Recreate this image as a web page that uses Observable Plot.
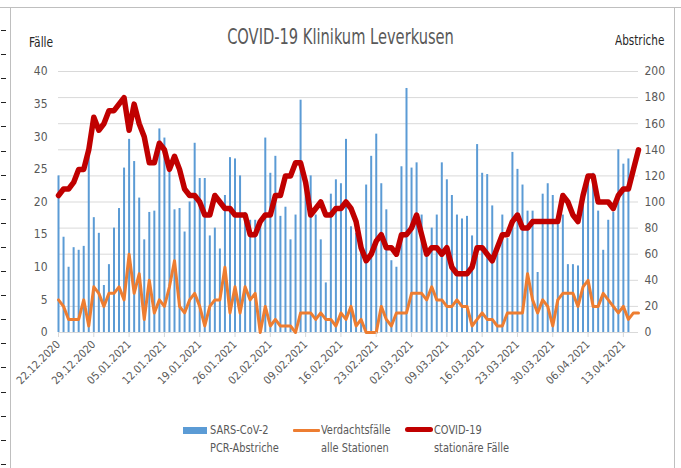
<!DOCTYPE html>
<html>
<head>
<meta charset="utf-8">
<script src="https://cdn.jsdelivr.net/npm/d3@7"></script>
<script src="https://cdn.jsdelivr.net/npm/@observablehq/plot@0.6"></script>
<style>
  body { margin: 0; background: #fff; }
  #wrap { position: relative; width: 681px; height: 468px; overflow: hidden; background: #fff;
          font-family: "DejaVu Sans Condensed", "Liberation Sans Narrow", sans-serif; }
  #chart { position: absolute; left: 0; top: 0; }
  .t { position: absolute; white-space: nowrap; color: #595959; transform-origin: left center; }
  .frame { position: absolute; background: #bfbfbf; }
  .dash { position: absolute; left: 1px; width: 5px; height: 1px; background: #222; }
</style>
</head>
<body>
<div id="wrap">
  <div class="frame" style="left:0;top:7px;width:681px;height:1px;"></div>
  <div class="frame" style="left:10px;top:8px;width:1px;height:460px;"></div>
  <div class="frame" style="left:674px;top:8px;width:1px;height:460px;"></div>
  <div id="chart"></div>
  <div class="t" id="title" style="left:0;width:681px;top:24px;text-align:center;font-size:22px;transform:scaleX(0.74);transform-origin:center center;">COVID-19 Klinikum Leverkusen</div>
  <div class="t" style="left:29px;top:34px;font-size:14px;color:#262626;transform:scaleX(0.85);">Fälle</div>
  <div class="t" style="left:615px;top:32px;font-size:14px;color:#262626;transform:scaleX(0.83);">Abstriche</div>
  <div id="legend"></div>
</div>
<script>
// ---- data ----
const firstDay = "2020-12-22";
const lastDay = "2021-04-16";

// SARS-CoV-2 PCR-Abstriche (right axis), one per day from 22.12.2020
const pcrSwabs = [120,73,50,65,63,66,135,88,76,36,
  52,80,95,126,148,131,103,71,92,93,
  156,149,123,94,95,77,100,145,118,118,
  74,80,64,105,134,133,120,92,86,86,
  84,149,122,135,89,96,71,90,178,110,
  120,90,71,38,106,117,114,148,81,76,
  62,113,135,152,114,94,55,50,127,187,
  126,130,90,58,80,90,130,117,105,90,
  87,89,74,144,122,121,97,62,90,72,
  138,125,113,93,93,46,106,114,105,86,
  90,52,52,51,104,119,122,93,63,86,
  92,140,129,133];

// Verdachtsfälle alle Stationen (left axis)
const suspectedCases = [5,4,2,2,2,5,1,7,6,4,
  6,6,7,5,12,6,9,2,8,3,
  5,4,7,11,4,3,5,6,4,1,
  4,5,5,10,3,7,3,7,5,6,
  0,4,1,2,1,1,1,0,3,3,
  3,2,3,2,2,1,3,2,4,1,
  2,0,0,0,4,2,1,3,3,3,
  6,6,6,5,7,5,5,4,4,5,
  4,4,1,2,3,2,2,1,1,3,
  3,3,3,9,5,3,5,4,1,5,
  6,6,6,4,7,8,4,4,6,5,
  4,3,4,2,3,3];

// COVID-19 stationäre Fälle (left axis)
const inpatientCases = [21,22,22,23,25,25,28,33,31,32,
  34,34,35,36,31,35,32,30,26,26,
  29,28,25,27,25,22,21,21,20,18,
  18,21,20,19,19,18,18,18,15,15,
  17,18,18,21,21,24,24,26,26,23,
  18,19,20,18,18,19,19,20,19,17,
  13,11,12,14,15,13,13,12,15,15,
  16,18,15,12,13,13,12,13,10,9,
  9,9,10,13,13,12,11,13,15,15,
  17,18,16,16,17,17,17,17,17,17,
  21,20,18,17,21,24,24,20,20,20,
  19,21,22,22,25,28];

const tickLabels = ["22.12.2020","29.12.2020","05.01.2021","12.01.2021","19.01.2021","26.01.2021",
  "02.02.2021","09.02.2021","16.02.2021","23.02.2021","02.03.2021","09.03.2021","16.03.2021",
  "23.03.2021","30.03.2021","06.04.2021","13.04.2021"];

const leftTicks = [0,5,10,15,20,25,30,35,40];
const rightTicks = [0,20,40,60,80,100,120,140,160,180,200];

const seriesNames = ["SARS-CoV-2\nPCR-Abstriche", "Verdachtsfälle\nalle Stationen", "COVID-19\nstationäre Fälle"];
const seriesColors = ["#5b9bd5", "#ed7d31", "#c00000"];

// ---- build tables ----
const parse = d3.utcParse("%d.%m.%Y");
const days = d3.utcDay.range(new Date(firstDay), d3.utcDay.offset(new Date(lastDay), 1));
const swabRows = pcrSwabs.map((v, i) => ({date: days[i], value: v}));
const suspRows = suspectedCases.map((v, i) => ({date: days[i], value: v}));
const inpatRows = inpatientCases.map((v, i) => ({date: days[i], value: v}));
const tickDates = tickLabels.map(parse);
const ratio = 200 / 40; // right axis / left axis
const fmt = d3.utcFormat("%d.%m.%Y");
const font = '"DejaVu Sans Condensed", "Liberation Sans Narrow", sans-serif';

const chart = Plot.plot({
  width: 681,
  height: 400,
  marginLeft: 58,
  marginRight: 43,
  marginTop: 71,
  marginBottom: 68,
  style: {fontFamily: font, fontSize: "12px", color: "#595959", background: "transparent", overflow: "visible"},
  x: {type: "utc", domain: [days[0], days[days.length - 1]]},
  y: {domain: [0, 200]},
  marks: [
    Plot.gridY(rightTicks, {stroke: "#d9d9d9", strokeOpacity: 1}),
    Plot.ruleX(swabRows, {x: "date", y: "value", stroke: seriesColors[0], strokeWidth: 2}),
    Plot.ruleY([0], {stroke: "#d9d9d9"}),
    Plot.line(suspRows, {x: "date", y: d => d.value * ratio, stroke: seriesColors[1], strokeWidth: 3, strokeLinejoin: "round"}),
    Plot.line(inpatRows, {x: "date", y: d => d.value * ratio, stroke: seriesColors[2], strokeWidth: 5.5, strokeLinejoin: "round", strokeLinecap: "round"}),
    Plot.axisY(leftTicks.map(d => d * ratio), {anchor: "left", tickSize: 0, tickPadding: 11, tickFormat: d => d / ratio, label: null, fill: "#595959", fontSize: 12}),
    Plot.axisY(rightTicks, {anchor: "right", tickSize: 0, tickPadding: 6, label: null, fill: "#595959", fontSize: 12}),
    Plot.axisX(tickDates, {anchor: "bottom", tickSize: 5, tickPadding: 5, tickRotate: -45, tickFormat: fmt, label: null, stroke: "#d9d9d9", fill: "#595959", fontSize: 11})
  ]
});
document.getElementById("chart").appendChild(chart);

// ---- legend ----
const legend = document.getElementById("legend");
const swatches = [
  {left: 183, top: 427, w: 24, h: 7, r: 0, textLeft: 210},
  {left: 293, top: 429, w: 27, h: 3, r: 1, textLeft: 321},
  {left: 405, top: 427, w: 28, h: 5, r: 3, textLeft: 434}
];
seriesNames.forEach((name, i) => {
  const s = swatches[i];
  const sw = document.createElement("div");
  sw.style.cssText = `position:absolute;left:${s.left}px;top:${s.top}px;width:${s.w}px;height:${s.h}px;background:${seriesColors[i]};border-radius:${s.r}px;`;
  legend.appendChild(sw);
  name.split("\n").forEach((line, j) => {
    const t = document.createElement("div");
    t.className = "t";
    t.style.cssText = `left:${s.textLeft}px;top:${421 + j * 18}px;font-size:13px;line-height:18px;transform:scaleX(0.84);`;
    t.textContent = line;
    legend.appendChild(t);
  });
});

// decorative ruler dashes at the left edge of the screenshot
const wrap = document.getElementById("wrap");
for (let y = 30; y < 468; y += 24.1) {
  const d = document.createElement("div");
  d.className = "dash";
  d.style.top = Math.round(y) + "px";
  wrap.appendChild(d);
}
</script>
</body>
</html>
